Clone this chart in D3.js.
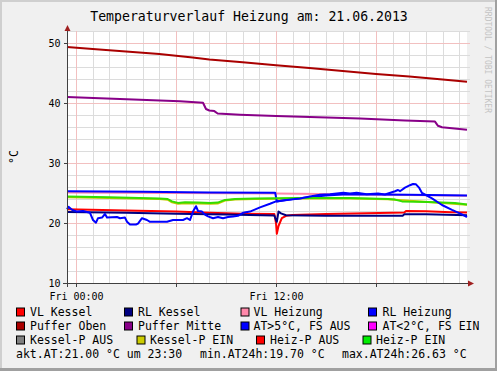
<!DOCTYPE html>
<html><head><meta charset="utf-8">
<script src="https://cdn.jsdelivr.net/npm/d3@7"></script>
<style>
html,body{margin:0;padding:0;background:#fff;}
svg{display:block;font-family:"DejaVu Sans Mono",monospace;}
</style></head><body>
<svg id="c" width="497" height="371"></svg>
<script>
// ---------- data ----------
const title = "Temperaturverlauf Heizung am: 21.06.2013";
const yUnit = "°C";
const watermark = "RRDTOOL / TOBI OETIKER";
const yTicks = [10, 20, 30, 40, 50];
const xTickHours = [0, 6, 12, 18];
const xTickLabels = {0: "Fri 00:00", 12: "Fri 12:00"};
const legendNames = ["VL Kessel", "RL Kessel", "VL Heizung", "RL Heizung",
  "Puffer Oben", "Puffer Mitte", "AT>5°C, FS AUS", "AT<2°C, FS EIN",
  "Kessel-P AUS", "Kessel-P EIN", "Heiz-P AUS", "Heiz-P EIN"];
const statsText = ["akt.AT:21.00 °C um 23:30", "min.AT24h:19.70 °C", "max.AT24h:26.63 °C"];

// series: [hours since Fri 00:00, °C]
const vlKessel = [[-0.54,22.3],[3,22.1],[6,21.9],[8,21.7],[10,21.55],[11.9,21.5],[12.0,20.0],[12.05,18.2],[12.15,19.5],[12.35,20.8],[12.6,21.2],[13,21.35],[15,21.5],[19,21.7],[19.7,21.75],[19.8,22.0],[21,21.95],[22.5,21.8],[23.46,21.75]];
const rlKessel = [[-0.54,21.85],[3,21.7],[6,21.55],[9,21.4],[11.9,21.25],[12.0,20.5],[12.05,20.2],[12.15,21.9],[12.3,21.6],[12.6,21.3],[15,21.2],[19.6,21.2],[19.7,21.45],[21,21.45],[23.46,21.3]];
const vlHeizung = [[-0.54,25.1],[6,25.0],[12,24.9],[16,24.8],[20,24.65],[23.46,24.55]];
const rlHeizung = [[-0.54,25.3],[4,25.2],[8,25.1],[11.95,25.05],[12.05,23.6],[12.5,23.8],[13,24.0],[14,24.3],[15,24.6],[16,24.75],[18,24.75],[20,24.7],[23.46,24.6]];
const pufferOben = [[-0.54,49.35],[1,49.0],[3,48.6],[5,48.15],[7,47.6],[8,47.25],[10,46.8],[12,46.3],[14,45.85],[16,45.35],[18,44.85],[20,44.4],[22,43.9],[23.46,43.55]];
const pufferMitte = [[-0.54,41.0],[1.44,40.8],[3.84,40.55],[6.24,40.3],[7.62,40.05],[7.8,39.0],[8.0,38.75],[8.3,38.65],[8.5,38.25],[9.84,38.05],[12,37.85],[14.04,37.65],[17.04,37.4],[19.74,37.1],[21.54,36.9],[21.72,36.2],[21.96,35.95],[23.46,35.55]];
const aussen = [[-0.54,22.3],[-0.45,22.7],[-0.24,22.2],[0.06,21.9],[0.42,22.0],[0.84,21.7],[1.02,20.5],[1.2,20.05],[1.32,20.8],[1.56,20.9],[1.74,21.5],[1.86,20.9],[2.16,20.95],[2.46,21.0],[2.64,20.8],[2.94,20.9],[3.06,20.2],[3.24,19.75],[3.6,19.75],[3.72,19.9],[3.96,20.8],[4.26,20.5],[4.44,20.2],[5.46,20.2],[5.82,20.5],[6.42,20.5],[6.66,20.8],[6.84,20.5],[7.02,21.9],[7.2,22.8],[7.32,22.0],[7.56,21.9],[7.74,21.4],[7.92,21.1],[8.22,20.8],[8.52,21.0],[8.82,20.8],[9.12,21.0],[9.42,21.1],[9.72,21.2],[10.02,21.7],[10.44,21.9],[11.04,22.6],[11.64,23.2],[12.0,23.6],[12.54,23.8],[13.14,24.0],[13.44,24.1],[14.04,24.4],[14.64,24.7],[15.24,24.8],[16.04,25.05],[16.44,24.9],[16.84,25.05],[17.44,24.8],[18.12,24.9],[18.54,24.75],[19.14,25.3],[19.32,25.5],[19.44,25.3],[19.74,25.9],[20.04,26.3],[20.22,26.5],[20.4,26.45],[20.58,25.9],[20.76,25.0],[21.36,24.1],[21.96,23.0],[22.56,22.2],[23.16,21.45],[23.46,21.0]];
const kesselPEin = [[-0.54,24.28],[2,24.18],[5,23.98],[5.5,23.88],[5.76,23.45],[6.12,23.2],[6.54,23.3],[7.32,23.25],[8.04,23.2],[8.5,23.25],[8.94,23.75],[9.54,23.9],[10.74,24.0],[13.44,24.1],[16.44,24.1],[18.72,23.95],[23.46,23.05]];
const heizPEin = [[-0.54,24.4],[2,24.3],[5,24.1],[5.5,24.0],[5.76,23.6],[6.12,23.35],[6.54,23.45],[7.32,23.4],[8.04,23.35],[8.5,23.4],[8.94,23.85],[9.54,24.0],[10.74,24.1],[13.44,24.15],[16.44,24.15],[18.72,24.0],[19.14,23.9],[19.56,23.6],[21.12,23.5],[22.74,23.35],[23.46,23.1]];

// ---------- styles ----------
const legendColors = ["#ff0000","#000080","#ff88aa","#0000ff","#aa0000","#880088","#0000ff","#ff00ff","#808080","#cccc00","#ff0000","#00ee00"];
const seriesDraw = [
  {d: kesselPEin, c: "#c8c800"},
  {d: vlKessel, c: "#ff0000"},
  {d: rlKessel, c: "#000080"},
  {d: vlHeizung, c: "#ff88aa"},
  {d: rlHeizung, c: "#0000ff"},
  {d: pufferOben, c: "#aa0000"},
  {d: pufferMitte, c: "#880088"},
  {d: heizPEin, c: "#33dd00"},
  {d: aussen, c: "#0000ff"}
];

const W = 497, H = 371;
const svg = d3.select("#c");
// frame
svg.append("rect").attr("width", W).attr("height", H).attr("fill", "#f0f0f0");
svg.append("rect").attr("x",0).attr("y",0).attr("width",W).attr("height",2).attr("fill","#cfcfcf");
svg.append("rect").attr("x",0).attr("y",0).attr("width",2).attr("height",H).attr("fill","#cfcfcf");
svg.append("rect").attr("x",0).attr("y",H-3).attr("width",W).attr("height",3).attr("fill","#a0a0a0");
svg.append("rect").attr("x",W-2).attr("y",0).attr("width",2).attr("height",H).attr("fill","#a0a0a0");

const x = d3.scaleLinear().domain([-0.54, 23.46]).range([67, 467]);
const y = d3.scaleLinear().domain([10, 52]).range([283, 31]);

svg.append("rect").attr("x", 67).attr("y", 31).attr("width", 400).attr("height", 252).attr("fill", "#fff");

// grid
const g = svg.append("g").attr("shape-rendering", "crispEdges");
const minorY = d3.range(12, 53, 2).filter(v => v % 10 !== 0);
g.selectAll(".hmin").data(minorY).enter().append("line")
  .attr("x1", 67).attr("x2", 470).attr("y1", d => Math.round(y(d)) + 0.5).attr("y2", d => Math.round(y(d)) + 0.5)
  .attr("stroke", "#dcdcdc");
const hours = d3.range(0, 24).filter(h => x(h) <= 467);
g.selectAll(".vmin").data(hours.filter(h => h % 6 !== 0)).enter().append("line")
  .attr("x1", d => Math.round(x(d)) + 0.5).attr("x2", d => Math.round(x(d)) + 0.5).attr("y1", 31).attr("y2", 283)
  .attr("stroke", "#dcdcdc");
g.selectAll(".hmaj").data(yTicks).enter().append("line")
  .attr("x1", 67).attr("x2", 470).attr("y1", d => Math.round(y(d)) + 0.5).attr("y2", d => Math.round(y(d)) + 0.5)
  .attr("stroke", "#f2c0c0");
g.selectAll(".vmaj").data(hours.filter(h => h % 6 === 0)).enter().append("line")
  .attr("x1", d => Math.round(x(d)) + 0.5).attr("x2", d => Math.round(x(d)) + 0.5).attr("y1", 31).attr("y2", 283)
  .attr("stroke", "#f2c0c0");

// series
const line = d3.line().x(d => x(d[0])).y(d => y(d[1]));
seriesDraw.forEach(s => {
  svg.append("path").attr("d", line(s.d)).attr("fill", "none").attr("stroke", s.c)
    .attr("stroke-width", 2).attr("stroke-linejoin", "round");
});

// axes
const yAxis = d3.axisLeft(y).tickValues(yTicks).tickSize(4).tickPadding(3).tickFormat(d3.format("d"));
const ya = svg.append("g").attr("transform", "translate(67.5,0)").call(yAxis);
ya.select(".domain").remove();
ya.selectAll("line").attr("stroke", "#404040").attr("shape-rendering","crispEdges");
ya.selectAll("text").attr("font-size", "10px").attr("font-family", "DejaVu Sans Mono").attr("fill", "#000");

const xAxis = d3.axisBottom(x).tickValues(xTickHours).tickSize(3).tickPadding(6).tickFormat(h => xTickLabels[h] || "");
const xa = svg.append("g").attr("transform", "translate(0,283.5)").call(xAxis);
xa.select(".domain").remove();
xa.selectAll("line").attr("stroke", "#404040").attr("shape-rendering","crispEdges");
xa.selectAll("text").attr("font-size", "10px").attr("font-family", "DejaVu Sans Mono").attr("fill", "#000");

svg.append("line").attr("x1", 67.5).attr("x2", 67.5).attr("y1", 287).attr("y2", 30).attr("stroke", "#404040");
svg.append("line").attr("x1", 63).attr("x2", 469).attr("y1", 283.5).attr("y2", 283.5).attr("stroke", "#404040");
svg.append("path").attr("d", "M64.5,31 L70.5,31 L67.5,25 Z").attr("fill", "#a02020");
svg.append("path").attr("d", "M468,280.5 L468,286.5 L474,283.5 Z").attr("fill", "#a02020");

// titles
svg.append("text").attr("x", 249).attr("y", 21).attr("text-anchor", "middle")
  .attr("font-size", "13.2px").attr("fill", "#000").text(title);
svg.append("text").attr("transform", "translate(18,157) rotate(-90)").attr("text-anchor", "middle")
  .attr("font-size", "11.5px").attr("fill", "#000").text(yUnit);
svg.append("text").attr("transform", "translate(485,7) rotate(90)").attr("text-anchor", "start")
  .attr("font-size", "8px").attr("fill", "#c4c4c4").text(watermark);

// legend
const legBoxX = [16, 124, 240.5, 368, 16, 124, 240.5, 368, 16, 136.5, 256, 362.5];
const legTxtX = [30, 138, 253.5, 382.5, 30, 138, 253.5, 382.5, 30, 150, 270, 376];
const rowBase = [315.5, 329.5, 343.5];
const lg = svg.append("g");
legendNames.forEach((n, i) => {
  const r = Math.floor(i / 4);
  lg.append("rect").attr("x", legBoxX[i] + 0.5).attr("y", rowBase[r] - 8 + 0.5).attr("width", 8).attr("height", 8)
    .attr("fill", legendColors[i]).attr("stroke", "#000").attr("stroke-width", 1);
  lg.append("text").attr("x", legTxtX[i]).attr("y", rowBase[r]).attr("font-size", "11.5px").attr("fill", "#000")
    .attr("xml:space", "preserve").text(n);
});
const statX = [16, 200, 342];
statsText.forEach((t, i) => {
  lg.append("text").attr("x", statX[i]).attr("y", 357.5).attr("font-size", "11.5px").attr("fill", "#000").text(t);
});
</script>
</body></html>
